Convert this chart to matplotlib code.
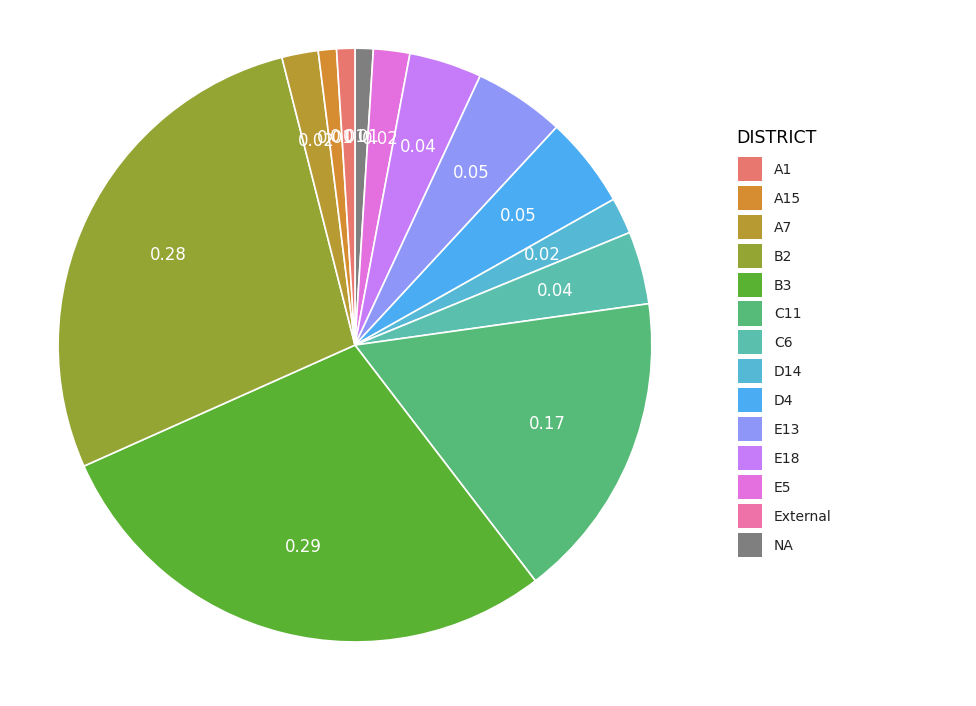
import matplotlib
matplotlib.use("Agg")
import matplotlib.pyplot as plt
from matplotlib.patches import Rectangle

districts = ["A1","A15","A7","B2","B3","C11","C6","D14","D4","E13","E18","E5","External","NA"]
colors = ["#E8776F","#D68C30","#B89A33","#94A534","#5AB232","#56BA78","#5BBFAD",
          "#55B8D4","#4AACF2","#8E97F8","#C67CF8","#E46FDE","#EE72A8","#7F7F7F"]
# clockwise from 12 o'clock
pie_order = ["NA","E5","E18","E13","D4","D14","C6","C11","B3","B2","A7","A15","A1"]
pie_values = [0.01,0.02,0.04,0.05,0.05,0.02,0.04,0.17,0.29,0.28,0.02,0.01,0.01]

cmap = dict(zip(districts, colors))
fig = plt.figure(figsize=(9.76,7.06), dpi=100)
ax = fig.add_axes([0.0594,0.0907,0.6086,0.841])
wedges, texts = ax.pie(pie_values, colors=[cmap[d] for d in pie_order], startangle=90,
    counterclock=False, labels=[f"{v:.2f}" for v in pie_values], labeldistance=0.7,
    wedgeprops=dict(edgecolor="white", linewidth=1.2),
    textprops=dict(color="white", fontsize=12, ha="center", va="center"))
for t in texts:
    t.set_ha("center"); t.set_va("center")
ax.set_xlim(-1,1); ax.set_ylim(-1,1)
ax.set_aspect("equal")

W,H = 976,706
fig.text(736/W, 1-138/H, "DISTRICT", fontsize=12.5, va="center", ha="left")
for i,(d,c) in enumerate(zip(districts, colors)):
    yc = 170 + i*28.9
    fig.patches.append(Rectangle((738/W, 1-(yc+11)/H), 24/W, 24/H, transform=fig.transFigure,
                                 facecolor=c, edgecolor="none"))
    fig.text(774/W, 1-yc/H, d, fontsize=10, va="center", ha="left", color="#222222")
fig.savefig("out.png", dpi=100)
